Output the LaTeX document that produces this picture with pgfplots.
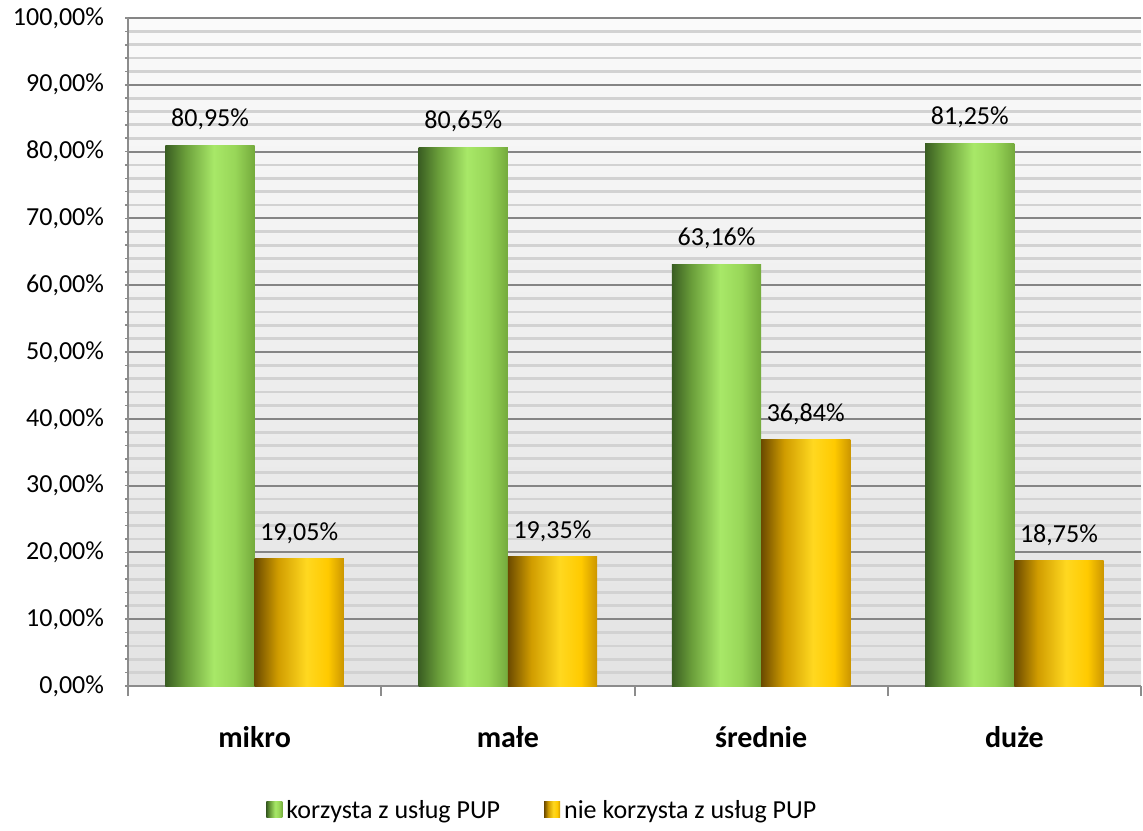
\documentclass[border=0pt]{standalone}
\usepackage{pgfplots}
\pgfplotsset{compat=1.18}
\usepackage{fontspec}
\setmainfont{Carlito}

% cylinder-like horizontal shadings for the two series
\definecolor{gA}{HTML}{3A5E22}
\definecolor{gB}{HTML}{6A9E3A}
\definecolor{gC}{HTML}{A8E868}
\definecolor{gD}{HTML}{98D658}
\definecolor{gE}{HTML}{74AA3C}
\definecolor{oA}{HTML}{6B4A00}
\definecolor{oB}{HTML}{D09C00}
\definecolor{oC}{HTML}{FFD820}
\definecolor{oD}{HTML}{FFCA00}
\definecolor{oE}{HTML}{CC9600}
\pgfdeclarehorizontalshading{greencyl}{100bp}{color(0bp)=(gA); color(25bp)=(gA); color(36bp)=(gB); color(52bp)=(gC); color(64bp)=(gD); color(75bp)=(gE); color(100bp)=(gE)}
\pgfdeclarehorizontalshading{orangecyl}{100bp}{color(0bp)=(oA); color(25bp)=(oA); color(38bp)=(oB); color(54bp)=(oC); color(66bp)=(oD); color(75bp)=(oE); color(100bp)=(oE)}
\definecolor{majgrid}{RGB}{133,133,133}
\definecolor{mingrid}{RGB}{210,210,210}
\definecolor{axisgray}{RGB}{140,140,140}

% each bar is its own plot so that the shading fits that bar alone
\pgfplotsset{
  greenbar/.style={draw=none, shading=greencyl, bar shift=-0.176,
    legend image code/.code={\shade[shading=greencyl] (0pt,-3.5pt) rectangle (8pt,4.5pt);}},
  orangebar/.style={draw=none, shading=orangecyl, bar shift=0.176,
    legend image code/.code={\shade[shading=orangecyl] (0pt,-3.5pt) rectangle (8pt,4.5pt);}},
}

\begin{document}
\begin{tikzpicture}
\begin{axis}[
  at={(64pt,72pt)}, anchor=south west,
  scale only axis, width=506.5pt, height=334pt,
  xmin=-0.5, xmax=3.5, ymin=0, ymax=100,
  axis x line*=bottom, axis y line*=left,
  axis line style={draw=axisgray, line width=1pt},
  axis background/.style={top color=white!98!black, bottom color=white!89!black},
  xtick={0,1,2,3},
  xticklabels={mikro,małe,średnie,duże},
  major x tick style={draw=none},
  extra x ticks={-0.5,0.5,1.5,2.5,3.5},
  extra x tick labels={},
  extra x tick style={major tick length=5pt, grid=none,
    major x tick style={draw=axisgray, line width=1pt}},
  xticklabel style={font=\fontsize{15}{18}\selectfont\bfseries, yshift=-15pt},
  ytick={0,10,...,100},
  yticklabels={{0,00\%},{10,00\%},{20,00\%},{30,00\%},{40,00\%},{50,00\%},{60,00\%},{70,00\%},{80,00\%},{90,00\%},{100,00\%}},
  minor y tick num=4,
  yticklabel style={font=\fontsize{13}{15}\selectfont, xshift=-7pt},
  tick align=outside,
  major tick length=1.5pt, minor tick length=1.5pt,
  y tick style={draw=axisgray, line width=0.8pt},
  ymajorgrids, yminorgrids,
  major grid style={draw=majgrid, line width=1pt},
  minor grid style={draw=mingrid, line width=1.4pt},
  ybar, bar width=0.352,
  nodes near coords={\pgfmathprintnumber[fixed, fixed zerofill, precision=2, use comma]{\pgfplotspointmeta}\%},
  /pgf/number format/assume math mode=true,
  every node near coord/.append style={font=\fontsize{13}{15}\selectfont, yshift=4pt, black},
  legend style={at={(0.41,-0.187)}, anchor=center, draw=none, fill=none,
    legend columns=2, font=\fontsize{13}{15}\selectfont,
    /tikz/every even column/.append style={column sep=20pt}},
  legend cell align=left,
  clip=false,
]
% korzysta z usług PUP / nie korzysta z usług PUP
\addplot[greenbar]  coordinates {(0,80.95)};
\addlegendentry{korzysta z usług PUP}
\addplot[orangebar] coordinates {(0,19.05)};
\addlegendentry{nie korzysta z usług PUP}
\addplot[greenbar, forget plot]  coordinates {(1,80.65)};
\addplot[orangebar, forget plot] coordinates {(1,19.35)};
\addplot[greenbar, forget plot]  coordinates {(2,63.16)};
\addplot[orangebar, forget plot] coordinates {(2,36.84)};
\addplot[greenbar, forget plot]  coordinates {(3,81.25)};
\addplot[orangebar, forget plot] coordinates {(3,18.75)};
\end{axis}
\pgfresetboundingbox
\path[use as bounding box] (0,0) rectangle (571.5pt,415pt);
\end{tikzpicture}
\end{document}
